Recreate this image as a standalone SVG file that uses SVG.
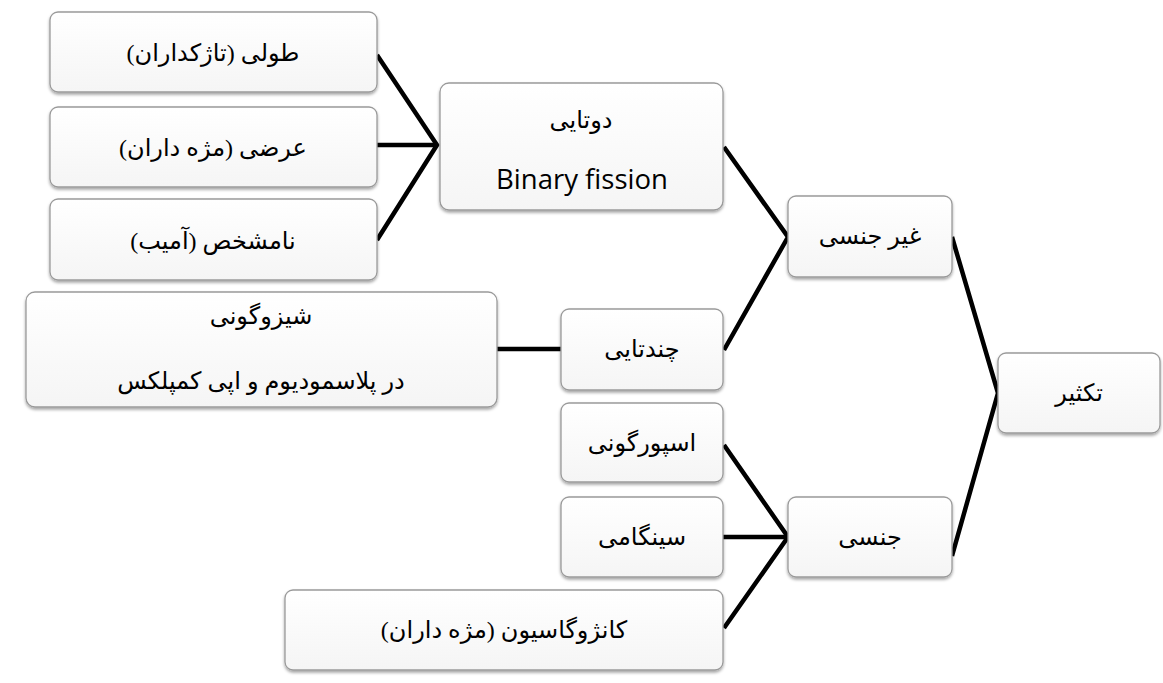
<svg xmlns="http://www.w3.org/2000/svg" width="1163" height="683" viewBox="0 0 1163 683">
<style>
.box{fill:url(#g);stroke:#9a9a9a;stroke-width:1.3;filter:url(#sh)}
.fa{font-family:"Liberation Serif","DejaVu Serif","DejaVu Sans",serif;font-size:24px;fill:#000;text-anchor:middle;direction:rtl;unicode-bidi:embed}
.en{font-family:"Open Sans","Liberation Sans",sans-serif;font-size:27.5px;fill:#000;text-anchor:middle}
.ln{stroke:#000;stroke-width:4.5;fill:none;stroke-linejoin:miter}
</style>
<defs>
<linearGradient id="g" x1="0" y1="0" x2="0" y2="1"><stop offset="0" stop-color="#ffffff"/><stop offset="1" stop-color="#f5f5f5"/></linearGradient>
<filter id="sh" x="-10%" y="-10%" width="120%" height="130%"><feDropShadow dx="0" dy="2" stdDeviation="1.5" flood-color="#000" flood-opacity="0.35"/></filter>
</defs>
<rect width="1163" height="683" fill="#fff"/>
<g id="connectors">
<polyline class="ln" points="377,55 437,145 377,240"/>
<line class="ln" x1="377" y1="145" x2="437" y2="145"/>
<polyline class="ln" points="724,147 788,237 724,350"/>
<line class="ln" x1="497" y1="349" x2="561" y2="349"/>
<polyline class="ln" points="952,237 998,393 952,556"/>
<polyline class="ln" points="724,445 788,537 724,628"/>
<line class="ln" x1="723" y1="537" x2="788" y2="537"/>
</g>
<g id="n-tuli"><rect class="box" x="50" y="12" width="327" height="80" rx="8"/><text class="fa" x="213" y="61">طولی (تاژکداران)</text></g>
<g id="n-arzi"><rect class="box" x="50" y="107" width="327" height="80" rx="8"/><text class="fa" x="213" y="156">عرضی (مژه داران)</text></g>
<g id="n-namoshakhas"><rect class="box" x="50" y="199" width="327" height="81" rx="8"/><text class="fa" x="213" y="249">نامشخص (آمیب)</text></g>
<g id="n-dotayi"><rect class="box" x="440" y="83" width="283" height="127" rx="9"/><text class="fa" x="581" y="128">دوتایی</text><text class="en" x="582" y="189">Binary fission</text></g>
<g id="n-gheirjensi"><rect class="box" x="788" y="196" width="164" height="81" rx="8"/><text class="fa" x="870" y="244">غیر جنسی</text></g>
<g id="n-schizogony"><rect class="box" x="26" y="292" width="471" height="115" rx="9"/><text class="fa" x="261" y="324">شیزوگونی</text><text class="fa" x="261" y="389">در پلاسمودیوم و اپی کمپلکس</text></g>
<g id="n-chandtayi"><rect class="box" x="561" y="309" width="162" height="81" rx="8"/><text class="fa" x="642" y="357">چندتایی</text></g>
<g id="n-taksir"><rect class="box" x="998" y="353" width="162" height="80" rx="8"/><text class="fa" x="1079" y="401">تکثیر</text></g>
<g id="n-sporogony"><rect class="box" x="561" y="403" width="162" height="79" rx="8"/><text class="fa" x="642" y="451">اسپورگونی</text></g>
<g id="n-syngamy"><rect class="box" x="561" y="497" width="162" height="80" rx="8"/><text class="fa" x="642" y="545">سینگامی</text></g>
<g id="n-jensi"><rect class="box" x="788" y="497" width="164" height="80" rx="8"/><text class="fa" x="870" y="545">جنسی</text></g>
<g id="n-conjugation"><rect class="box" x="285" y="590" width="438" height="80" rx="8"/><text class="fa" x="504" y="638">کانژوگاسیون (مژه داران)</text></g>
</svg>
